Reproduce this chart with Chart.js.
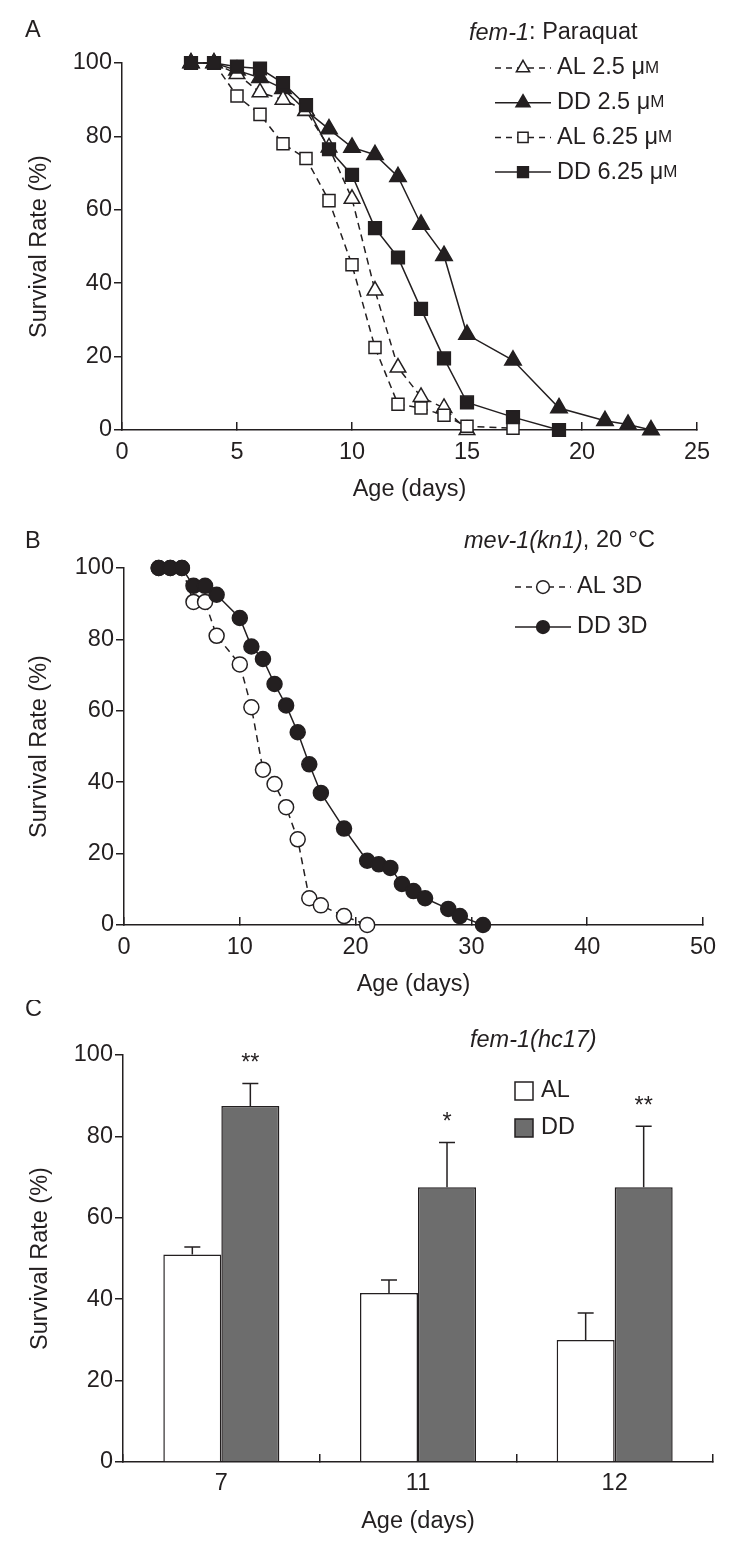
<!DOCTYPE html>
<html>
<head>
<meta charset="utf-8">
<script src="https://cdn.jsdelivr.net/npm/chart.js@4.4.0/dist/chart.umd.min.js"></script>
<style>
  body { margin: 0; background: #fff; }
  #wrap { position: relative; width: 750px; height: 1551px; }
  canvas { position: absolute; left: 0; }
</style>
</head>
<body>
<div id="wrap">
  <canvas id="chartA" width="750" height="505" style="top:0"></canvas>
  <canvas id="chartB" width="750" height="495" style="top:505px"></canvas>
  <canvas id="chartC" width="750" height="551" style="top:1000px"></canvas>
</div>
<script>
// Panel A: fem-1 on paraquat
const daysA_AL25 = [3, 4, 5, 6, 7, 8, 9, 10, 11, 12, 13, 14, 15];
const survA_AL25 = [100, 100, 97, 92, 90, 87, 77, 63, 38, 17, 9, 6, 0];
const daysA_DD25 = [3, 4, 5, 6, 7, 8, 9, 10, 11, 12, 13, 14, 15, 17, 19, 21, 22, 23];
const survA_DD25 = [100, 100, 98, 96, 93, 87, 82, 77, 75, 69, 56, 47.5, 26, 19, 6, 2.5, 1.5, 0];
const daysA_AL625 = [3, 4, 5, 6, 7, 8, 9, 10, 11, 12, 13, 14, 15, 17];
const survA_AL625 = [100, 100, 91, 86, 78, 74, 62.5, 45, 22.5, 7, 6, 4, 1, 0.5];
const daysA_DD625 = [3, 4, 5, 6, 7, 8, 9, 10, 11, 12, 13, 14, 15, 17, 19];
const survA_DD625 = [100, 100, 99, 98.5, 94.5, 88.5, 76.5, 69.5, 55, 47, 33, 19.5, 7.5, 3.5, 0];

// Panel B: mev-1(kn1)
const daysB_AL = [3, 4, 5, 6, 7, 8, 10, 11, 12, 13, 14, 15, 16, 17, 19, 21];
const survB_AL = [100, 100, 100, 90.5, 90.5, 81, 73, 61, 43.5, 39.5, 33, 24, 7.5, 5.5, 2.5, 0];
const daysB_DD = [3, 4, 5, 6, 7, 8, 10, 11, 12, 13, 14, 15, 16, 17, 19, 21, 22, 23, 24, 25, 26, 28, 29, 31];
const survB_DD = [100, 100, 100, 95, 95, 92.5, 86, 78, 74.5, 67.5, 61.5, 54, 45, 37, 27, 18, 17, 16, 11.5, 9.5, 7.5, 4.5, 2.5, 0];

// Panel C: fem-1(hc17) bars
const agesC = ['7', '11', '12'];
const survC_AL = [51, 41.5, 30];
const survC_DD = [87.5, 67.5, 67.5];
const errC_AL = [1.8, 3.2, 6.6];
const errC_DD = [5.5, 11, 15];
const sigC = ['**', '*', '**'];

const FONT = "'Liberation Sans', Arial, Helvetica, sans-serif";
const INK = '#231f20';
const FS = 23.5;

function textRun(ctx, x, y, parts) {
    ctx.textBaseline = 'middle';
    ctx.textAlign = 'left';
    ctx.fillStyle = INK;
    parts.forEach(p => {
        ctx.font = (p.italic ? 'italic ' : '') + (p.size || FS) + 'px ' + FONT;
        ctx.fillText(p.t, x, y);
        x += ctx.measureText(p.t).width;
    });
}

function legendRow(ctx, x1, x2, y, ds, label) {
    ctx.save();
    ctx.strokeStyle = INK;
    ctx.lineWidth = 1.5;
    ctx.setLineDash(ds.borderDash.length ? [6, 5] : []);
    ctx.beginPath();
    ctx.moveTo(x1, y);
    ctx.lineTo(x2, y);
    ctx.stroke();
    ctx.setLineDash([]);
    ctx.fillStyle = ds.pointBackgroundColor;
    Chart.helpers.drawPoint(ctx, {
        pointStyle: ds.pointStyle, radius: ds.pointRadius * 0.85,
        rotation: 0, borderWidth: 1.5
    }, (x1 + x2) / 2, y);
    ctx.restore();
    textRun(ctx, x2 + 6, y, label);
}

function yAxis(titleGap) {
    return {
        min: 0, max: 100,
        ticks: { stepSize: 20, color: INK, font: { family: FONT, size: FS }, padding: 2 },
        grid: { drawOnChartArea: false, color: INK, tickLength: 8, lineWidth: 1.5 },
        border: { color: INK, width: 1.5 },
        title: { display: true, text: 'Survival Rate (%)', color: INK,
                 font: { family: FONT, size: FS }, padding: { top: titleGap, bottom: 0 } },
        afterFit: s => { s.width = 122; }
    };
}

function xAxis(max, step, height) {
    return {
        type: 'linear', min: 0, max: max,
        ticks: { stepSize: step, color: INK, font: { family: FONT, size: FS }, padding: 16,
                 autoSkip: false, maxRotation: 0 },
        grid: { drawOnChartArea: false, color: INK, tickLength: -8, lineWidth: 1.5 },
        border: { color: INK, width: 1.5 },
        title: { display: true, text: 'Age (days)', color: INK,
                 font: { family: FONT, size: FS }, padding: { top: 0, bottom: 1 } },
        afterFit: s => { s.height = height; }
    };
}

function series(label, xs, ys, style, filled, dashed, radius) {
    return {
        label: label,
        data: xs.map((x, i) => ({ x: x, y: ys[i] })),
        borderColor: INK,
        borderWidth: 1.5,
        borderDash: dashed ? [7, 5] : [],
        pointStyle: style,
        pointRadius: radius,
        pointBorderWidth: 1.5,
        pointBackgroundColor: filled ? INK : '#fff',
        pointBorderColor: INK,
        tension: 0,
        fill: false,
        clip: false
    };
}

const baseOptions = {
    responsive: false,
    animation: false,
    devicePixelRatio: 1,
    plugins: { legend: { display: false }, tooltip: { enabled: false } }
};

// ---- Panel A ----
const dsA = [
    series('DD 6.25', daysA_DD625, survA_DD625, 'rect', true, false, 9),
    series('AL 6.25', daysA_AL625, survA_AL625, 'rect', false, true, 8.5),
    series('AL 2.5', daysA_AL25, survA_AL25, 'triangle', false, true, 9),
    series('DD 2.5', daysA_DD25, survA_DD25, 'triangle', true, false, 9.5)
];

const decorA = {
    id: 'decorA',
    afterDraw(chart) {
        const ctx = chart.ctx;
        textRun(ctx, 25, 31, [{ t: 'A' }]);
        textRun(ctx, 469, 33, [{ t: 'fem-1', italic: true }, { t: ': Paraquat' }]);
        const rows = [[2, 'AL 2.5 '], [3, 'DD 2.5 '], [1, 'AL 6.25 '], [0, 'DD 6.25 ']];
        rows.forEach((r, k) => {
            legendRow(ctx, 495, 551, 68 + k * 34.7, dsA[r[0]],
                [{ t: r[1] + 'μ' }, { t: 'M', size: 17 }]);
        });
    }
};

new Chart(document.getElementById('chartA'), {
    type: 'line',
    data: { datasets: dsA },
    options: {
        ...baseOptions,
        layout: { padding: { left: 0, top: 63, right: 53, bottom: 0 } },
        scales: { x: xAxis(25, 5, 75), y: yAxis(25) }
    },
    plugins: [decorA]
});

// ---- Panel B ----
const dsB = [
    series('DD 3D', daysB_DD, survB_DD, 'circle', true, false, 7.5),
    series('AL 3D', daysB_AL, survB_AL, 'circle', false, true, 7.5)
];

const decorB = {
    id: 'decorB',
    afterDraw(chart) {
        const ctx = chart.ctx;
        textRun(ctx, 25, 37, [{ t: 'B' }]);
        textRun(ctx, 464, 36, [{ t: 'mev-1(kn1)', italic: true }, { t: ', 20 °C' }]);
        legendRow(ctx, 515, 571, 82, dsB[1], [{ t: 'AL 3D' }]);
        legendRow(ctx, 515, 571, 122, dsB[0], [{ t: 'DD 3D' }]);
    }
};

new Chart(document.getElementById('chartB'), {
    type: 'line',
    data: { datasets: dsB },
    options: {
        ...baseOptions,
        layout: { padding: { left: 2, top: 63, right: 47, bottom: 0 } },
        scales: { x: xAxis(50, 10, 75), y: yAxis(23) }
    },
    plugins: [decorB]
});

// ---- Panel C ----
const decorC = {
    id: 'decorC',
    afterDatasetsDraw(chart) {
        const ctx = chart.ctx;
        const y = chart.scales.y;
        ctx.save();
        ctx.strokeStyle = INK;
        ctx.lineWidth = 1.5;
        [errC_AL, errC_DD].forEach((errs, d) => {
            chart.getDatasetMeta(d).data.forEach((bar, i) => {
                const top = y.getPixelForValue(chart.data.datasets[d].data[i] + errs[i]);
                ctx.beginPath();
                ctx.moveTo(bar.x, bar.y);
                ctx.lineTo(bar.x, top);
                ctx.moveTo(bar.x - 8, top);
                ctx.lineTo(bar.x + 8, top);
                ctx.stroke();
                if (d === 1) {
                    ctx.font = FS + 'px ' + FONT;
                    ctx.fillStyle = INK;
                    ctx.textAlign = 'center';
                    ctx.textBaseline = 'middle';
                    ctx.fillText(sigC[i], bar.x, top - 20);
                }
            });
        });
        ctx.restore();
    },
    afterDraw(chart) {
        const ctx = chart.ctx;
        textRun(ctx, 25, 10, [{ t: 'C' }]);
        textRun(ctx, 470, 40, [{ t: 'fem-1(hc17)', italic: true }]);
        const items = [[0, 'AL', 91], [1, 'DD', 128]];
        items.forEach(it => {
            const ds = chart.data.datasets[it[0]];
            ctx.fillStyle = ds.backgroundColor;
            ctx.fillRect(515, it[2] - 9, 18, 18);
            ctx.strokeStyle = INK;
            ctx.lineWidth = 1.5;
            ctx.strokeRect(515, it[2] - 9, 18, 18);
            textRun(ctx, 541, it[2], [{ t: it[1] }]);
        });
    }
};

const xC = xAxis(0, 1, 89);
delete xC.type; delete xC.min; delete xC.max;
xC.ticks = { color: INK, font: { family: FONT, size: FS }, padding: 15 };
xC.title.padding = { top: 0, bottom: 15 };

new Chart(document.getElementById('chartC'), {
    type: 'bar',
    data: {
        labels: agesC,
        datasets: [
            { label: 'AL', data: survC_AL, backgroundColor: '#ffffff', borderColor: INK,
              borderWidth: 1.5, categoryPercentage: 0.59, barPercentage: 1 },
            { label: 'DD', data: survC_DD, backgroundColor: '#6d6d6d', borderColor: INK,
              borderWidth: 1.5, categoryPercentage: 0.59, barPercentage: 1 }
        ]
    },
    options: {
        ...baseOptions,
        layout: { padding: { left: 1, top: 55, right: 37, bottom: 0 } },
        scales: { x: xC, y: yAxis(25) }
    },
    plugins: [decorC]
});
</script>
</body>
</html>
